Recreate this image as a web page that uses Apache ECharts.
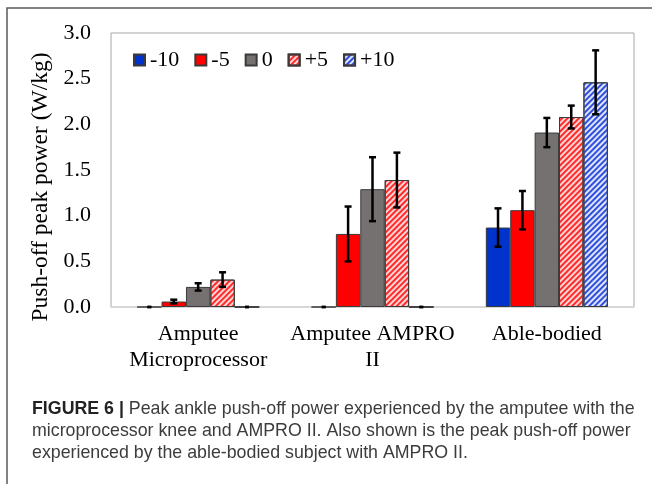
<!DOCTYPE html>
<html>
<head>
<meta charset="utf-8">
<title>Peak push-off power</title>
<script src="https://cdn.jsdelivr.net/npm/echarts@6/dist/echarts.min.js"></script>
<style>
    html, body { margin: 0; padding: 0; background: #fff; }
    #chart { width: 652px; height: 484px; }
</style>
</head>
<body>
<div id="chart"></div>
<script>
    var categories = ['Amputee\nMicroprocessor', 'Amputee AMPRO\nII', 'Able-bodied'];
    var seriesNames = ['-10', '-5', '0', '+5', '+10'];
    var yTicks = [0, 0.5, 1.0, 1.5, 2.0, 2.5, 3.0];

    // mean peak push-off power (W/kg), one array per offset
    var valM10 = [0, 0, 0.87];
    var valM5 = [0.06, 0.80, 1.06];
    var val0 = [0.22, 1.29, 1.91];
    var valP5 = [0.30, 1.39, 2.08];
    var valP10 = [0, 0, 2.46];

    // standard deviation (error bar half height)
    var errM10 = [0, 0, 0.21];
    var errM5 = [0.02, 0.30, 0.21];
    var err0 = [0.04, 0.35, 0.16];
    var errP5 = [0.08, 0.30, 0.125];
    var errP10 = [0, 0, 0.35];

    var values = [valM10, valM5, val0, valP5, valP10];
    var errors = [errM10, errM5, err0, errP5, errP10];

    var serif = '"Liberation Serif", "Times New Roman", serif';
    var styles = [
        { color: '#0033cc' },
        { color: '#ff0000' },
        { color: '#767171' },
        { color: '#ffd6d6', decal: hatch('#ff2a2a') },
        { color: '#dfe5ff', decal: hatch('#3050dc') }
    ];

    function hatch(color) {
        return {
            symbol: 'rect',
            symbolSize: 1,
            color: color,
            dashArrayX: [1, 0],
            dashArrayY: [1.5, 1.5],
            rotation: -Math.PI / 4
        };
    }

    function errorRender(offsetIndex) {
        return function (params, api) {
            var cat = api.value(0);
            var v = api.value(1);
            var e = api.value(2);
            var center = api.coord([cat, v]);
            var band = api.size([1, 0])[0];
            var barW = band * 0.7 / seriesNames.length;
            var x = center[0] + (offsetIndex - (seriesNames.length - 1) / 2) * barW;
            var top = api.coord([cat, v + e])[1];
            var bottom = api.coord([cat, v - e])[1];
            var half = e > 0 ? 3.5 : 2;
            var style = { stroke: '#000', lineWidth: 2.5 };
            return {
                type: 'group',
                children: [
                    { type: 'line', shape: { x1: x, y1: top, x2: x, y2: bottom }, style: style },
                    { type: 'line', shape: { x1: x - half, y1: top, x2: x + half, y2: top }, style: style },
                    { type: 'line', shape: { x1: x - half, y1: bottom, x2: x + half, y2: bottom }, style: style }
                ]
            };
        };
    }

    var series = [];
    for (var i = 0; i < seriesNames.length; i++) {
        var itemStyle = {
            color: styles[i].color,
            borderColor: '#3a3a3a',
            borderWidth: 1
        };
        if (styles[i].decal) {
            itemStyle.decal = styles[i].decal;
        }
        series.push({
            name: seriesNames[i],
            type: 'bar',
            data: values[i],
            barGap: '0%',
            barCategoryGap: '30%',
            itemStyle: itemStyle
        });
    }
    for (var j = 0; j < seriesNames.length; j++) {
        var errData = [];
        for (var k = 0; k < categories.length; k++) {
            errData.push([k, values[j][k], errors[j][k]]);
        }
        series.push({
            name: 'err' + j,
            type: 'custom',
            renderItem: errorRender(j),
            data: errData,
            z: 10
        });
    }

    var chart = echarts.init(document.getElementById('chart'));
    var option = {
        animation: false,
        backgroundColor: '#fff',
        grid: {
            left: 111,
            top: 33,
            right: 18,
            bottom: 177,
            show: true,
            borderColor: '#a6a6a6',
            borderWidth: 1
        },
        legend: {
            data: seriesNames,
            left: 133,
            top: 49,
            padding: 0,
            itemWidth: 11,
            itemHeight: 11,
            itemGap: 15,
            icon: 'rect',
            textStyle: { fontFamily: serif, fontSize: 22, color: '#000' }
        },
        xAxis: {
            type: 'category',
            data: categories,
            axisLine: { show: true, lineStyle: { color: '#d9d9d9', width: 1.5 } },
            axisTick: { show: false },
            axisLabel: {
                interval: 0,
                margin: 14,
                fontFamily: serif,
                fontSize: 22,
                lineHeight: 26,
                color: '#000'
            }
        },
        yAxis: {
            type: 'value',
            min: yTicks[0],
            max: yTicks[yTicks.length - 1],
            interval: 0.5,
            name: 'Push-off peak power (W/kg)',
            nameLocation: 'middle',
            nameGap: 58,
            nameTextStyle: { fontFamily: serif, fontSize: 23.5, color: '#000', padding: [0, 34, 0, 0] },
            axisLine: { show: false },
            axisTick: { show: false },
            splitLine: { show: false },
            axisLabel: {
                margin: 20,
                fontFamily: serif,
                fontSize: 22,
                color: '#000',
                formatter: function (v) { return v.toFixed(1); }
            }
        },
        graphic: [
            {
                type: 'rect',
                shape: { x: 7, y: 8, width: 700, height: 600 },
                style: { fill: 'none', stroke: '#5a5a5a', lineWidth: 1.5 },
                silent: true
            },
            {
                type: 'text',
                left: 32,
                top: 398,
                style: {
                    text: '{b|FIGURE 6 |} Peak ankle push-off power experienced by the amputee with the\n' +
                        'microprocessor knee and AMPRO II. Also shown is the peak push-off power\n' +
                        'experienced by the able-bodied subject with AMPRO II.',
                    fontFamily: '"Liberation Sans", Arial, sans-serif',
                    fontSize: 17.8,
                    lineHeight: 22,
                    fill: '#3c3c3c',
                    rich: {
                        b: { fontFamily: '"Liberation Sans", Arial, sans-serif', fontSize: 17.8, fontWeight: 'bold', fill: '#222' }
                    }
                }
            }
        ],
        series: series
    };
    chart.setOption(option);
</script>
</body>
</html>
